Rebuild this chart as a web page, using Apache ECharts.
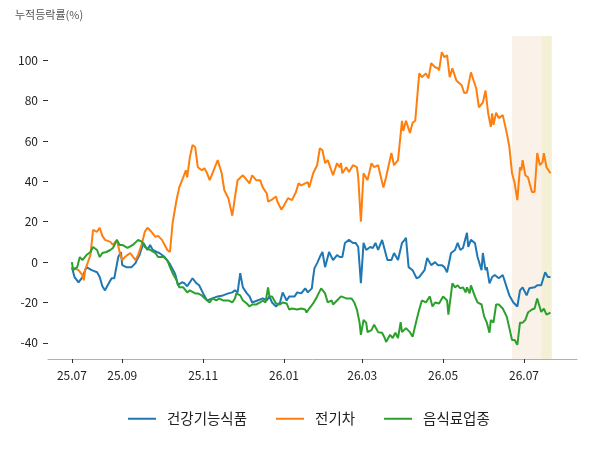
<!DOCTYPE html>
<html>
<head>
<meta charset="utf-8">
<script src="https://cdn.jsdelivr.net/npm/echarts@6/dist/echarts.min.js"></script>
<style>
  html, body { margin: 0; padding: 0; background: #fff; }
  #chart { width: 600px; height: 450px; }
</style>
</head>
<body>
<div id="chart"></div>
<script>
// x = days since 2025-07-25 (first trading day shown)
const tickDays = [0, 38, 99, 160, 219, 280, 341];
const tickLabels = ['25.07', '25.09', '25.11', '26.01', '26.03', '26.05', '26.07'];
const yTicks = [-40, -20, 0, 20, 40, 60, 80, 100];

// shaded periods (days)
const periodA = [332, 354];
const periodB = [354, 362];

const seriesNames = ['건강기능식품', '전기차', '음식료업종'];

// 건강기능식품
const health = [
  [0,-2.5],[2,-7.4],[5,-10],[8,-7.4],[11,-2.5],[15,-4],[19,-5],[21,-7.4],[23,-12],[25,-14],[27,-11.5],
  [30,-8],[32,-8],[35,2.5],[37,5],[38,-1.5],[41,-2.5],[45,-2.5],[48,-0.5],[49,1],[51,3.5],[54,9.5],
  [57,6],[59,8.5],[61,6],[64,5],[66,4.5],[70,2.5],[74,-1],[78,-6],[80,-11.5],[83,-10],[85,-10.5],
  [87,-12],[91,-8],[94,-10.5],[96,-11.5],[99,-15.5],[102,-19],[106,-18],[110,-17],[114,-16.5],
  [118,-15.5],[121,-15],[123,-14],[125,-15],[127,-5.5],[129,-12.5],[132,-15.5],[134,-17],[136,-20],
  [140,-19],[144,-18],[147,-19],[149,-17],[151,-20],[154,-22],[157,-20],[159,-15],[162,-19],[164,-17],
  [168,-17],[170,-15],[173,-15.5],[176,-13],[178,-15],[181,-13],[182,-7.4],[183,-3],[185,-0.5],
  [187,2.5],[189,5],[191,-2.5],[194,5],[197,1],[200,3.5],[202,2.5],[204,2.5],[206,9.5],[209,11],
  [212,9.5],[214,9.5],[216,7.5],[218,-10.5],[220,9.5],[222,6],[225,7.5],[227,7],[229,9.5],[231,6],
  [234,11],[236,6],[238,1],[241,1],[243,4.5],[246,1],[249,9.5],[251,11],[252,12],[254,-2.5],
  [257,-4],[260,-8],[262,-7.4],[266,-4],[268,2],[271,-1.5],[274,0],[276,-1.5],[279,-1.5],[281,-2.5],
  [283,-5],[286,4.5],[289,6],[291,9.5],[293,6],[295,7],[298,14.5],[299,7.5],[301,11],[304,9.5],
  [306,2.5],[309,-4],[310,4.5],[312,-4],[313,-2.5],[315,-10.5],[317,-7.4],[319,-6.4],[322,-8],
  [325,-6.4],[328,-12.5],[330,-16.5],[333,-20],[336,-22],[338,-14],[340,-12.5],[343,-16.5],[345,-13],
  [349,-12.5],[351,-11.5],[354,-11.5],[357,-5],[359,-7.4],[361,-7.4]
];

// 전기차
const ev = [
  [0,-3],[2,-3],[5,-4],[8,-6.5],[9,-9],[10,-4],[14,3.5],[16,16],[19,15],[21,17],[23,13],[25,11],
  [29,10],[31,8.5],[34,11],[36,5],[38,1],[40,2.5],[44,4.5],[48,1],[50,3.5],[53,9.5],[55,15],[57,17],
  [60,15],[63,12.5],[65,13],[68,11],[70,8.5],[72,6],[74,5],[76,19.5],[79,31],[81,37],[84,42],
  [86,45.5],[87,42],[89,52],[91,58],[93,57],[95,47],[98,45.5],[100,46.5],[102,44],[104,40.6],
  [106,44],[110,50.5],[113,44],[115,35.6],[118,31.7],[121,23],[123,32],[125,40.6],[129,43],
  [132,40.6],[134,39],[136,43],[139,40.6],[142,40.6],[144,37],[147,34],[148,30],[151,31],[154,32.5],
  [155,30],[158,26],[160,28],[163,31.7],[166,30.7],[169,34.7],[171,39],[173,38],[176,39],[178,39.6],
  [179,37],[182,44],[185,48],[187,56.4],[189,55.4],[191,49],[193,50.5],[197,43],[200,49],[202,47],
  [203,49],[204,44],[207,47],[209,44.6],[212,48],[215,47],[216,42],[218,20],[220,44],[223,40.6],
  [226,49],[228,47],[231,48],[234,39.6],[235,37],[237,42],[241,54],[243,48],[246,50.5],[249,70],
  [250,65],[252,70],[255,64],[257,69],[259,70],[262,93.5],[264,91.6],[267,93.5],[269,91],[271,98.5],
  [274,96.5],[276,96],[277,95],[279,104],[281,101.5],[283,102.5],[285,91.6],[287,96],[290,90],
  [294,87.6],[296,83.7],[298,84],[301,94],[302,93.5],[305,86],[307,76.7],[310,79],[312,85],[314,73.7],
  [316,67],[317,73.7],[318,68],[320,74],[322,71.3],[325,72.8],[328,64],[330,57],[332,44],[334,39],
  [336,30.7],[338,47],[339,45.5],[340,50.5],[342,43],[344,42],[347,34.7],[349,34.7],[350,34.7],
  [351,54],[353,48],[355,49.5],[356,54],[358,47],[361,44]
];

// 음식료업종
const food = [
  [0,0],[1,-4],[4,-2.5],[6,2.5],[8,1],[11,3.5],[14,5],[16,7.5],[19,6],[21,2.5],[23,4.5],[26,5],
  [29,6],[31,7],[34,11],[36,8.5],[38,8.5],[42,7],[46,8.5],[50,11],[53,10],[55,7.5],[59,6],[63,4.5],
  [65,2.5],[69,2.5],[72,1],[74,-2.5],[76,-5.5],[79,-9],[81,-12.5],[84,-12.5],[87,-15],[89,-14],
  [93,-15.5],[95,-15.5],[98,-16.5],[102,-19],[104,-20],[106,-18],[109,-19],[111,-18],[114,-19],
  [118,-19],[121,-20],[123,-18],[124,-15.5],[127,-16.5],[129,-19],[132,-20.5],[134,-22],[136,-21],
  [139,-21],[142,-20],[144,-19],[146,-20],[148,-12.5],[149,-17],[151,-17],[154,-20.5],[157,-21],
  [159,-20],[162,-20.5],[164,-23.5],[166,-23],[170,-23.5],[173,-23],[176,-23.5],[177,-25],[179,-23],
  [182,-20.5],[185,-17],[188,-13],[191,-15.5],[193,-20],[196,-19],[197,-21],[200,-19],[203,-17],
  [207,-18],[211,-18],[213,-20],[215,-23.5],[217,-30],[218,-36],[220,-28.7],[222,-30],[223,-34.7],
  [226,-33.7],[228,-31],[231,-34.7],[234,-35],[236,-37.6],[237,-39.6],[240,-36],[242,-37.6],[244,-35],
  [246,-37.6],[248,-29.7],[249,-34.7],[252,-32.7],[255,-34.7],[257,-37],[260,-28.7],[262,-23.5],
  [264,-19],[267,-20],[270,-17],[272,-22],[274,-20],[277,-20.5],[280,-17],[283,-19],[284,-26],
  [287,-10.5],[289,-12.5],[291,-11.5],[293,-13],[295,-12.5],[297,-15],[298,-12.5],[300,-15.5],
  [301,-11.5],[304,-17],[306,-20],[309,-21],[311,-27],[313,-30],[315,-35],[316,-28.7],[318,-30],
  [320,-21],[322,-21],[325,-23],[328,-27],[330,-32.7],[332,-38.6],[334,-38.6],[336,-41],[338,-30],
  [340,-30],[342,-28.7],[344,-25],[347,-23.5],[349,-23],[351,-18],[354,-24.7],[356,-23],[358,-26],
  [361,-25]
];

const COLORS = ['#1f77b4', '#ff7f0e', '#2ca02c'];
const FONT = 'Noto Sans CJK KR';

const chart = echarts.init(document.getElementById('chart'));

const lineSeries = (name, data, color, extra) => Object.assign({
  name: name,
  type: 'line',
  data: data,
  showSymbol: false,
  symbol: 'none',
  lineStyle: { color: color, width: 2 },
  itemStyle: { color: color },
  animation: false,
}, extra || {});

chart.setOption({
  animation: false,
  textStyle: { fontFamily: FONT },
  title: {
    text: '누적등락률(%)',
    left: 10,
    top: 4,
    textStyle: { fontSize: 11, fontWeight: 'normal', color: '#555', fontFamily: FONT },
  },
  grid: { left: 48, right: 23, top: 36, bottom: 91 },
  legend: {
    bottom: 19,
    left: 123,
    icon: 'rect',
    itemWidth: 28,
    itemHeight: 2,
    itemGap: 29,
    textStyle: { fontSize: 14.5, color: '#222', fontFamily: FONT, padding: [0, 0, 0, 6] },
    data: seriesNames,
  },
  xAxis: {
    type: 'value',
    min: -18,
    max: 381,
    splitLine: { show: false },
    axisLine: { onZero: false, lineStyle: { color: '#b0b0b0', width: 1 } },
    axisTick: { customValues: tickDays, length: 4, lineStyle: { color: '#333' } },
    axisLabel: {
      customValues: tickDays,
      formatter: (v) => tickLabels[tickDays.indexOf(v)] || '',
      color: '#222',
      fontSize: 12,
      margin: 10,
    },
  },
  yAxis: {
    type: 'value',
    min: -48,
    max: 112,
    splitLine: { show: false },
    axisLine: { show: false, onZero: false },
    axisTick: { show: true, customValues: yTicks, length: 5, lineStyle: { color: '#333' } },
    axisLabel: { customValues: yTicks, color: '#222', fontSize: 12, margin: 10 },
  },
  series: [
    lineSeries(seriesNames[0], health, COLORS[0], {
      markArea: {
        silent: true,
        data: [
          [{ xAxis: periodA[0], itemStyle: { color: '#faf1e8' } }, { xAxis: periodA[1] }],
          [{ xAxis: periodB[0], itemStyle: { color: '#f4f0d5' } }, { xAxis: periodB[1] }],
        ],
      },
    }),
    lineSeries(seriesNames[1], ev, COLORS[1]),
    lineSeries(seriesNames[2], food, COLORS[2]),
  ],
});
</script>
</body>
</html>
